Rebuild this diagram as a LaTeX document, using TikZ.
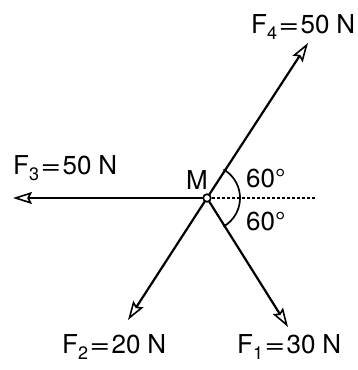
\documentclass[tikz,border=0pt]{standalone}
\usepackage{fontspec}
\setmainfont{TeX Gyre Heros}
\usetikzlibrary{arrows.meta}
\newcommand{\sub}[1]{\raisebox{-0.45ex}{\fontsize{18}{18}\selectfont #1}}
\newcommand{\eq}{\kern1.5pt\scalebox{1.35}[1]{=}\kern1.5pt}
\newcommand{\force}[2]{\draw[force] (#1) -- (#2)}

\begin{document}
\begin{tikzpicture}[x=1pt,y=-1pt,
	force/.style={line width=2.2pt,-{Stealth[open,inset=3pt,length=19pt,width=12pt,line width=1.6pt]}},
	lbl/.style={anchor=base west,inner sep=0pt,font=\fontsize{26}{29}\selectfont}]
\useasboundingbox (0,0) rectangle (358,370);
\coordinate (M) at (207,198);
\coordinate (t1) at (288,327);
\coordinate (t2) at (128,320);
\coordinate (t3) at (13,198);
\coordinate (t4) at (308,43);
\coordinate (dot) at (315,198);
%
\draw[line width=1.5pt,dash pattern=on 2.5pt off 2.5pt] (M) -- (dot);
\draw[line width=1.7pt] ([shift={(-60:33)}]M) arc (-60:60:33);
	\force{M}{t1};
	\force{M}{t2};
	\force{M}{t3};
	\force{M}{t4};
\draw[line width=1.7pt,fill=white] (M) circle (3.8);
%
\node[lbl] (l4) at (251,33) {F\sub{4}\eq 50\hspace{7pt}N};
\node[lbl] (l3) at (13,174) {F\sub{3}\eq 50\hspace{7pt}N};
\node[lbl] (l2) at (62,353) {F\sub{2}\eq 20\hspace{7pt}N};
\node[lbl] (l1) at (237,353) {F\sub{1}\eq 30\hspace{7pt}N};
\node[lbl] (lM) at (186,189) {M};
\node[lbl] (a1) at (246,187) {60°};
\node[lbl] (a2) at (246,230) {60°};
\end{tikzpicture}
\end{document}
